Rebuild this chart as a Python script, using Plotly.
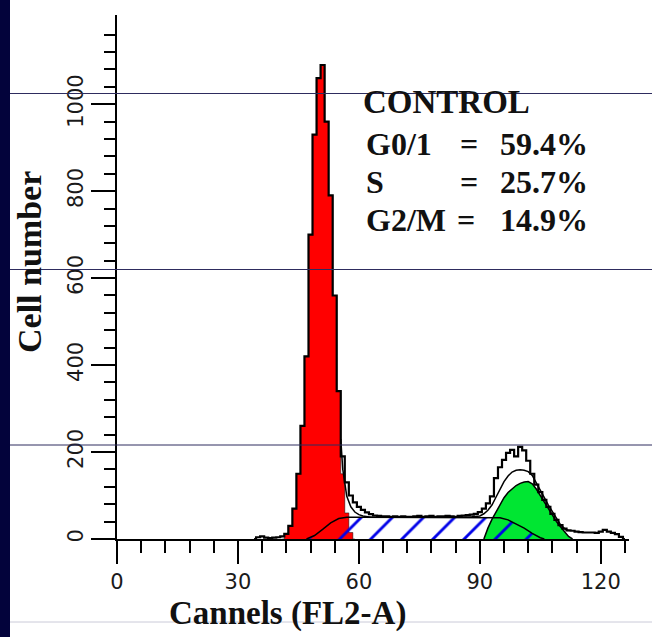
import plotly.graph_objects as go

# ---------------- data ----------------
data_ch = list(range(34, 127))
data_counts = [0, 4, 6, 3, 2, 3, 4, 6, 12, 30,
               70, 150, 260, 420, 700, 930, 1060, 1090, 960, 790,
               560, 340, 190, 130, 100, 84, 74, 67, 61, 57,
               54, 53, 52, 52, 51, 52, 51, 52, 51, 51,
               52, 53, 51, 52, 53, 51, 52, 52, 53, 52,
               51, 53, 54, 55, 56, 58, 62, 70, 82, 98,
               140, 165, 182, 198, 205, 190, 212, 204, 180, 150,
               125, 108, 90, 74, 58, 44, 32, 24, 20, 19,
               17, 16, 15, 15, 15, 14, 17, 21, 17, 14,
               11, 5, 0]

g1_ch = list(range(41, 60))
g1_counts = [0, 12, 30, 70, 150, 260, 420, 700, 930, 1060,
             1090, 960, 790, 560, 340, 150, 60, 15, 0]

g2_ch = list(range(91, 114))
g2_counts = [0, 25, 45, 62, 78, 95, 107, 116, 123, 128,
             131, 132, 127, 115, 100, 83, 67, 52, 40, 28,
             17, 6, 0]

s_ch = [47, 49, 51, 53, 55, 57, 60, 70, 80, 90, 95, 97, 99, 101, 103, 105, 106]
s_counts = [0, 8, 22, 37, 47, 50, 50, 50, 50, 50, 49, 44, 35, 25, 13, 3, 0]

fit_ch = [55.5, 56, 57, 58, 59, 60, 61, 62, 63, 70, 80, 88, 90, 91, 92, 93, 94,
          95, 96, 97, 98, 99, 100, 101, 102, 103, 104, 105, 106, 107, 108,
          109, 110, 111, 112]
fit_counts = [230, 160, 98, 74, 62, 56, 53, 51, 50, 50, 50, 51, 53, 58, 66, 78, 96,
              116, 132, 145, 154, 158, 159, 158, 155, 146, 130, 112, 95, 78, 62,
              47, 33, 24, 19]

x_major = [0, 30, 60, 90, 120]
x_minor = list(range(0, 127, 6))
y_major = [0, 200, 400, 600, 800, 1000]
y_minor = list(range(0, 1200, 40))

title_lines = ["CONTROL"]
phase_labels = ["G0/1", "S", "G2/M"]
phase_values = ["59.4%", "25.7%", "14.9%"]

# ---------------- figure ----------------
fig = go.Figure()

fig.add_trace(go.Scatter(x=g1_ch, y=g1_counts, mode="lines", line_shape="hvh",
                         fill="tozeroy", fillcolor="#ff0000",
                         line=dict(color="#000000", width=0.5)))
fig.add_trace(go.Scatter(x=g2_ch, y=g2_counts, mode="lines",
                         fill="tozeroy", fillcolor="#00e632",
                         line=dict(color="#000000", width=1.5)))
fig.add_trace(go.Scatter(x=s_ch, y=s_counts, mode="lines",
                         fill="tozeroy", fillcolor="rgba(255,255,255,0)",
                         fillpattern=dict(shape="/", fgcolor="#0000e8", fgopacity=1,
                                          bgcolor="rgba(255,255,255,0)",
                                          size=22, solidity=0.13),
                         line=dict(color="#000000", width=1.5)))
fig.add_trace(go.Scatter(x=fit_ch, y=fit_counts, mode="lines",
                         line=dict(color="#000000", width=1.5)))
fig.add_trace(go.Scatter(x=data_ch, y=data_counts, mode="lines", line_shape="hvh",
                         line=dict(color="#000000", width=2.2)))

L, R, T, B = 117, 23, 15, 98
W, H = 652, 637
pw, ph = W - L - R, H - T - B


def px(xp):
    return (xp - L) / pw


def py(yp):
    return (H - B - yp) / ph


shapes = [
    dict(type="rect", xref="paper", yref="paper", x0=px(0), x1=px(10),
         y0=py(H), y1=py(0), fillcolor="#03033b", line=dict(width=0), layer="above"),
]
for yl in [93.5, 269.5, 445]:
    shapes.append(dict(type="line", xref="paper", yref="paper", x0=px(10), x1=px(W),
                       y0=py(yl), y1=py(yl), line=dict(color="#2e2c5e", width=1),
                       layer="above"))
shapes.append(dict(type="line", xref="paper", yref="paper", x0=px(10), x1=px(W),
                   y0=py(622), y1=py(622), line=dict(color="#cacad8", width=1),
                   layer="below"))

serif = "Liberation Serif"
fs = 32
ann = []
ann.append(dict(text="<b>" + title_lines[0] + "</b>", x=px(361), y=py(101.7),
                xanchor="left", yanchor="middle", font=dict(size=33)))
rows_y = [144, 181.7, 220]
eq_x = [469, 469, 466]
for lab, val, yy, ex in zip(phase_labels, phase_values, rows_y, eq_x):
    ann.append(dict(text="<b>" + lab + "</b>", x=px(364), y=py(yy),
                    xanchor="left", yanchor="middle"))
    ann.append(dict(text="<b>=</b>", x=px(ex), y=py(yy),
                    xanchor="center", yanchor="middle"))
    ann.append(dict(text="<b>" + val + "</b>", x=px(498), y=py(yy),
                    xanchor="left", yanchor="middle"))
for a in ann:
    size = a.get("font", {}).get("size", fs)
    a.update(xref="paper", yref="paper", showarrow=False,
             font=dict(family=serif, size=size, color="#111111"))

ann.append(dict(text="<b>Cell number</b>", x=px(29), y=py(262), xref="paper", yref="paper",
                textangle=-90, showarrow=False, xanchor="center", yanchor="middle",
                font=dict(family=serif, size=34, color="#111111")))
ann.append(dict(text="<b>Cannels (FL2-A)</b>", x=px(287), y=py(613), xref="paper",
                yref="paper", showarrow=False, xanchor="center", yanchor="middle",
                font=dict(family=serif, size=33, color="#111111")))

tickfont = dict(family="DejaVu Sans", size=21, color="#1a1a1a")

fig.update_layout(
    width=W, height=H,
    margin=dict(l=L, r=R, t=T, b=B),
    paper_bgcolor="#ffffff", plot_bgcolor="#ffffff",
    showlegend=False,
    shapes=shapes, annotations=ann,
    xaxis=dict(range=[0, 127], showgrid=False, zeroline=False,
               showline=True, linecolor="#000000", linewidth=2,
               ticks="outside", tickvals=x_major, ticklen=23, tickwidth=2,
               tickcolor="#000000", tickfont=tickfont,
               minor=dict(tickvals=x_minor, ticklen=12, tickwidth=2,
                          tickcolor="#000000", ticks="outside", showgrid=False)),
    yaxis=dict(range=[0, 1205], showgrid=False, zeroline=False,
               showline=True, linecolor="#000000", linewidth=2,
               ticks="outside", tickvals=y_major, ticklen=24, tickwidth=2,
               tickcolor="#000000", tickfont=tickfont, tickangle=-90,
               minor=dict(tickvals=y_minor, ticklen=11, tickwidth=2,
                          tickcolor="#000000", ticks="outside", showgrid=False)),
)

fig.write_html("out.html", config={"displayModeBar": False},
               post_script="document.body.style.margin='0';")
